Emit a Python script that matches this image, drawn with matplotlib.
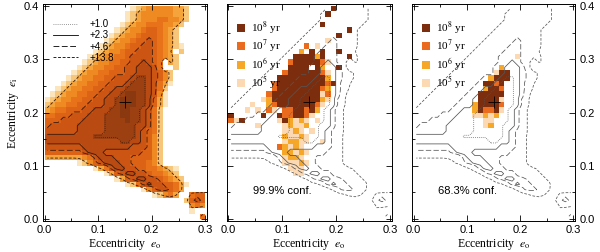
import numpy as np
import matplotlib
matplotlib.use("Agg")
import matplotlib.pyplot as plt
from matplotlib.colors import ListedColormap, BoundaryNorm
from matplotlib.lines import Line2D
from matplotlib.patches import Patch

plt.rcParams["font.family"] = ["Liberation Sans", "DejaVu Sans"]
plt.rcParams["mathtext.fontset"] = "stix"

# ── data ────────────────────────────────────────────────────────────────────
# delta chi^2 map, one char per 0.01 x 0.01 cell (e_o 0.00..0.30, e_i 0.40 -> 0.00)
# '0' = minimum (darkest) ... '9' = faintest, '.' = no solution
CHI_ROWS = [
    "................98766666778...",   # e_i 0.39
    "...............987666666778...",
    "...............987666556678...",
    "..............987665556678....",
    ".............987665445678.....",
    "............9876654445678.....",
    "...........98766544345678.....",
    "..........9876654433456789....",
    ".........987665443334567.8....",
    "........98766554333345678.....",   # 0.30
    ".......987665544332345.78.....",
    "......9876655443322235..8.....",
    ".....9876655444332223468......",
    "....98766554433321123468......",
    "...987665544333211123579......",
    "..987665544332211112358.......",
    ".9876655443322100112369.......",
    "98766554433221000112479.......",
    "87665544333221000112479.......",
    "7655444332221100112358........",   # 0.20
    "5544433322211100112358........",
    "4443333222211110112358........",
    "4333332222211111122358........",
    "3333332222211111123458........",
    "2222222221111111123468........",
    "2222222222222211223468........",
    "3333333222222222333468........",
    "4444444322233333334468........",
    "7777777653222333444468........",
    "......9864322233444568........",   # 0.10
    ".........9753223344556789.....",
    "...........97432233455678.....",
    ".............9743223345678....",
    "...............985323344579...",
    "..................96433457....",
    "....................98657..544",
    "..........................8434",
    "...........................656",
    "...........................9..",
    ".............................5",   # 0.00
]
CHI_VALUES = [0.3, 0.8, 1.7, 3.2, 5.5, 8.0, 11.0, 13.0, 15.0, 18.0]
CHI_NODATA = 25.0
CHI_COLORS = ["#8a3810", "#9c4012", "#b84a12", "#cc5514", "#dc6216",
              "#e8721a", "#ef8a22", "#f4a43a", "#f8c678", "#fce4bc"]

CONTOUR_LEVELS = [1.0, 2.3, 4.6, 13.8]
CONTOUR_LABELS = ["+1.0", "+2.3", "+4.6", "+13.8"]
CONTOUR_STYLES = [(0, (1, 1.5)), "solid", (0, (7, 3)), (0, (3.5, 2))]

# surviving solutions by age: {row (e_i*100): cells from e_o=0}, '8'=1e8 yr ...
AGE_999 = {
    39: "...................8",
    38: "..................8",
    36: ".................8",
    35: "......................8",
    34: "....................8",
    33: "..................5",
    32: "..............7.5",
    31: ".............6.8.8..8",
    30: "............888868....8",
    29: "...........78888875",
    28: "...........8888.86..8",
    27: "..........788888875",
    26: ".........8888888886",
    25: "........788888888878",
    24: "........78888888876",
    23: ".......788888888857",
    22: "......5688888888865",
    21: "....5..67888888875",
    20: "...5.5.75.7788786",
    19: "8.....8..8778875",
    18: "758......586565.5",
    17: ".....5....56556",
    16: "..........5565.5",
    15: "..........65565",
    14: "..........56655..5",
    13: ".........76565",
    12: "..........66565",
    11: "..........5665",
    10: "..........55565",
    9: "...........555",
    8: "............55",
}
AGE_683 = {
    30: "...................5",
    28: "................6",
    27: "...............588",
    26: "..............6888",
    25: ".............8878",
    24: ".............6887",
    23: "............88888",
    22: "............88885",
    21: "...........688887",
    20: "...........687785",
    19: "...........55656",
    18: ".............55",
    17: ".............56",
}
AGE_CODES = ["5", "6", "7", "8"]
AGE_COLORS = ["#fcd9b2", "#f6a728", "#ea6a1e", "#7c2d0d"]
AGE_LABELS = ["10$^5$ yr", "10$^6$ yr", "10$^7$ yr", "10$^8$ yr"]

BEST = (0.15, 0.22)

# ── grids ───────────────────────────────────────────────────────────────────
NX, NY = 30, 40
x_edges = np.linspace(0.0, 0.30, NX + 1)
y_edges = np.linspace(0.0, 0.40, NY + 1)
x_cent = 0.5 * (x_edges[:-1] + x_edges[1:])
y_cent = 0.5 * (y_edges[:-1] + y_edges[1:])

lev = np.full((NY, NX), -1, dtype=int)
for k, row in enumerate(CHI_ROWS):
    j = NY - 1 - k
    for i, ch in enumerate(row.ljust(NX, ".")[:NX]):
        if ch != ".":
            lev[j, i] = int(ch)
chi = np.where(lev >= 0, np.take(CHI_VALUES, np.clip(lev, 0, 9)), CHI_NODATA)
lev_m = np.ma.masked_less(lev, 0)


def age_grid(rows):
    g = np.full((NY, NX), -1, dtype=int)
    for j, row in rows.items():
        for i, ch in enumerate(row[:NX]):
            if ch in AGE_CODES:
                g[j, i] = AGE_CODES.index(ch)
    return np.ma.masked_less(g, 0)


def draw_contours(ax, color, lw):
    for level, ls in zip(CONTOUR_LEVELS, CONTOUR_STYLES):
        ax.contour(x_cent, y_cent, chi, levels=[level], colors=[color],
                   linewidths=lw, linestyles=[ls])


def style_axes(ax):
    ax.set_xlim(-0.003, 0.303)
    ax.set_ylim(-0.004, 0.404)
    ax.set_xticks([0.0, 0.1, 0.2, 0.3])
    ax.set_xticks([0.05, 0.15, 0.25], minor=True)
    ax.set_yticks([0.0, 0.1, 0.2, 0.3, 0.4])
    ax.set_yticks([0.05, 0.15, 0.25, 0.35], minor=True)
    ax.xaxis.set_major_formatter(plt.FuncFormatter(lambda v, _: f"{v:.1f}"))
    ax.yaxis.set_major_formatter(plt.FuncFormatter(lambda v, _: f"{v:.1f}"))
    ax.tick_params(which="both", direction="in", top=True, right=True,
                   labelsize=8, width=0.6, pad=3)
    ax.tick_params(which="major", length=4)
    ax.tick_params(which="minor", length=2)
    for s in ax.spines.values():
        s.set_linewidth(0.7)
    ax.set_xlabel("Eccentricity  $e_{\\rm o}$", fontsize=8.5,
                  family="Liberation Serif", labelpad=1)


fig = plt.figure(figsize=(6.0, 2.52), dpi=100)
ax1 = fig.add_axes([0.0717, 0.123, 0.2733, 0.861])
ax2 = fig.add_axes([0.378, 0.123, 0.275, 0.861])
ax3 = fig.add_axes([0.6867, 0.123, 0.2717, 0.861])

# ── 1. chi^2 map ────────────────────────────────────────────────────────────
cmap1 = ListedColormap(CHI_COLORS)
norm1 = BoundaryNorm(np.arange(-0.5, 10.5, 1), cmap1.N)
ax1.pcolormesh(x_edges, y_edges, lev_m, cmap=cmap1, norm=norm1)
draw_contours(ax1, "#3b1a0a", 0.6)
ax1.plot(*BEST, marker="+", color="k", ms=8, mew=0.6)
style_axes(ax1)
ax1.set_ylabel("Eccentricity  $e_{\\rm i}$", fontsize=8.5,
               family="Liberation Serif", labelpad=2)
handles = [Line2D([], [], color="k", lw=0.6, ls=ls) for ls in CONTOUR_STYLES]
handles[0].set_color("#777777")
ax1.legend(handles, CONTOUR_LABELS, loc="upper left", frameon=False,
           fontsize=7, handlelength=2.6, handletextpad=1.2,
           labelspacing=0.12, borderaxespad=0.6, bbox_to_anchor=(0.0, 0.975))

# ── 2./3. surviving solutions ───────────────────────────────────────────────
cmap2 = ListedColormap(AGE_COLORS)
norm2 = BoundaryNorm(np.arange(-0.5, 4.5, 1), cmap2.N)
patches = [Patch(facecolor=c, edgecolor="none") for c in AGE_COLORS]
for ax, ages, conf in [(ax2, AGE_999, "99.9% conf."), (ax3, AGE_683, "68.3% conf.")]:
    ax.pcolormesh(x_edges, y_edges, age_grid(ages), cmap=cmap2, norm=norm2)
    draw_contours(ax, "#555555", 0.55)
    ax.plot(*BEST, marker="+", color="k", ms=8, mew=0.6)
    style_axes(ax)
    ax.text(0.045, 0.046, conf, fontsize=8)
    ax.legend(patches[::-1], AGE_LABELS[::-1], loc="upper left", frameon=False,
              prop={"family": "Liberation Serif", "size": 8},
              handlelength=0.75, handleheight=0.75, handletextpad=0.5,
              labelspacing=0.12, borderaxespad=0.5, bbox_to_anchor=(0.0, 0.975))

ax2.tick_params(labelleft=False)
ax3.tick_params(labelleft=False, labelright=True)

fig.savefig("out.png", dpi=100)
